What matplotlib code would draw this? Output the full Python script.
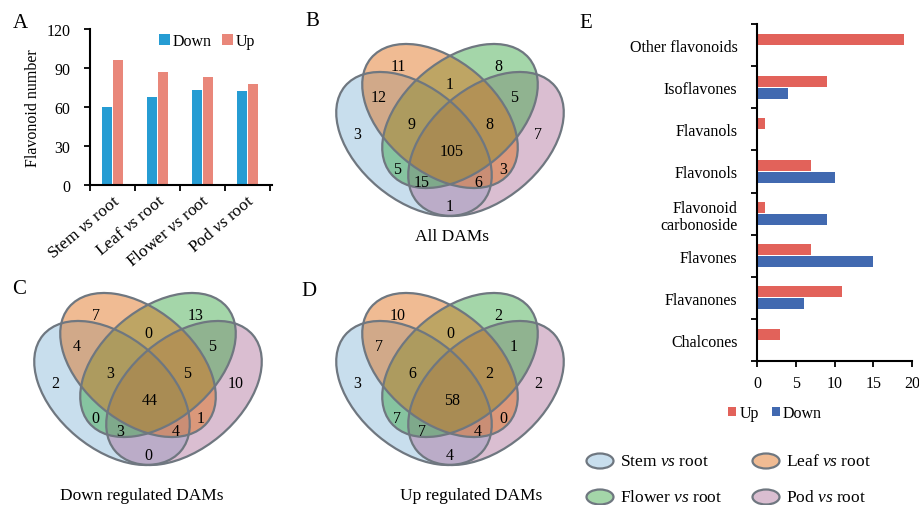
import matplotlib
matplotlib.use('Agg')
import matplotlib.pyplot as plt
from matplotlib.patches import Ellipse
import matplotlib.transforms as mtransforms
import numpy as np

plt.rcParams['font.family'] = ['Liberation Serif', 'DejaVu Serif']
plt.rcParams['mathtext.fontset'] = 'custom'
plt.rcParams['mathtext.rm'] = 'Liberation Serif'
plt.rcParams['mathtext.it'] = 'Liberation Serif:italic'

# ---------------- data ----------------
comparisons = ['Stem', 'Leaf', 'Flower', 'Pod']
a_down = [60, 68, 73, 72]
a_up = [96, 87, 83, 78]
a_yticks = [0, 30, 60, 90, 120]

e_classes = ['Chalcones', 'Flavanones', 'Flavones', 'Flavonoid\ncarbonoside',
             'Flavonols', 'Flavanols', 'Isoflavones', 'Other flavonoids']
e_up = [3, 11, 7, 1, 7, 1, 9, 19]
e_down = [0, 6, 15, 9, 10, 0, 4, 0]
e_xticks = [0, 5, 10, 15, 20]

region_keys = ['S', 'L', 'F', 'P', 'SL', 'SF', 'SP', 'LF', 'LP', 'FP',
               'SLF', 'SLP', 'SFP', 'LFP', 'SLFP']
venn_all = [3, 11, 8, 7, 12, 5, 1, 1, 3, 5, 9, 6, 15, 8, 105]
venn_down = [2, 7, 13, 10, 4, 0, 0, 0, 1, 5, 3, 4, 3, 5, 44]
venn_up = [3, 10, 2, 2, 7, 7, 4, 0, 0, 1, 6, 4, 7, 2, 58]
venn_titles = ['All DAMs', 'Down regulated DAMs', 'Up regulated DAMs']

# ---------------- layout ----------------
W, H = 919, 506
fig = plt.figure(figsize=(W / 100, H / 100), dpi=100)

c_down_a = '#269CD3'
c_up_a = '#E9877A'
c_up_e = '#E2625A'
c_down_e = '#4169B0'

set_colors = {'S': '#85B6D9', 'L': '#DE6A11', 'F': '#37A642', 'P': '#AD6F9B'}
set_alpha = 0.45
set_names = {'S': 'Stem', 'L': 'Leaf', 'F': 'Flower', 'P': 'Pod'}
edge_col = '#6F7780'

# ---------- Panel A ----------
axA = fig.add_axes([90 / W, 1 - 186 / H, 182 / W, 156 / H])
x = np.arange(len(comparisons))
axA.bar(x - 0.125, a_down, 0.23, color=c_down_a, label='Down')
axA.bar(x + 0.125, a_up, 0.23, color=c_up_a, label='Up')
axA.set_xlim(-0.5, 3.54)
axA.set_ylim(0, 120)
axA.set_yticks(a_yticks)
axA.set_xticks(x)
axA.set_xticklabels([c + r' $\mathit{vs}$ root' for c in comparisons],
                    rotation=40, ha='right', va='top', rotation_mode='anchor', fontsize=12.5)
off = mtransforms.ScaledTranslation(4 / 100, 5 / 100, fig.dpi_scale_trans)
for lab in axA.get_xticklabels():
    lab.set_transform(lab.get_transform() + off)
axA.set_xticks(np.arange(-0.5, 4, 1), minor=True)
axA.tick_params(axis='x', which='major', length=0, pad=5)
axA.tick_params(axis='x', which='minor', length=4, width=1.3, direction='out')
axA.tick_params(axis='y', length=4, width=1.3, direction='out', labelsize=11.5, pad=10)
for s in ['top', 'right']:
    axA.spines[s].set_visible(False)
for s in ['left', 'bottom']:
    axA.spines[s].set_linewidth(1.5)
axA.set_ylabel('Flavonoid number', fontsize=11.5, labelpad=4)
axA.legend(loc='center', bbox_to_anchor=(207 / W, 1 - 42 / H), bbox_transform=fig.transFigure,
           ncol=2, frameon=False, handlelength=0.7, handleheight=0.7, handletextpad=0.2,
           columnspacing=0.6, fontsize=11.5, borderpad=0, borderaxespad=0)

# ---------- Panel E ----------
axE = fig.add_axes([757 / W, 1 - 362 / H, 155 / W, 337 / H])
y = np.arange(len(e_classes))
axE.barh(y + 0.14, e_up, 0.26, color=c_up_e, label='Up')
axE.barh(y - 0.14, e_down, 0.26, color=c_down_e, label='Down')
axE.set_ylim(-0.5, 7.5)
axE.set_xlim(0, 20)
axE.set_xticks(e_xticks)
axE.set_yticks(y)
axE.set_yticklabels(e_classes, fontsize=11.5, linespacing=1.1)
axE.set_yticks(np.arange(-0.5, 8, 1), minor=True)
axE.tick_params(axis='y', which='major', length=0, pad=14)
axE.tick_params(axis='y', which='minor', length=4, width=1.3, direction='out')
axE.tick_params(axis='x', length=4, width=1.3, direction='out', labelsize=11.5, pad=6)
for s in ['top', 'right']:
    axE.spines[s].set_visible(False)
for s in ['left', 'bottom']:
    axE.spines[s].set_linewidth(1.5)
axE.legend(loc='center', bbox_to_anchor=(775 / W, 1 - 414 / H), bbox_transform=fig.transFigure,
           ncol=2, frameon=False, handlelength=0.5, handleheight=0.5, handletextpad=0.2,
           columnspacing=0.8, fontsize=11.5, borderpad=0, borderaxespad=0)

# ---------- Venn panels (overlay in pixel coordinates) ----------
ov = fig.add_axes([0, 0, 1, 1])
ov.set_xlim(0, W)
ov.set_ylim(H, 0)
ov.set_axis_off()

# ellipse geometry relative to (symmetry axis x, top reference y)
ell_geom = {'S': (-36, 145, 40), 'L': (-10, 117, 40), 'F': (10, 117, -40), 'P': (36, 145, -40)}
ell_a, ell_b = 90, 56
label_pos = {'S': (-93, 135), 'L': (-52, 67), 'F': (48, 67), 'P': (88, 135),
             'SL': (-71, 98), 'SF': (-53, 170), 'SP': (0, 207), 'LF': (0, 85),
             'LP': (53, 170), 'FP': (64, 98), 'SLF': (-38, 125), 'SLP': (28, 183),
             'SFP': (-28, 183), 'LFP': (39, 125), 'SLFP': (2, 152)}


def draw_venn(ox, oy, counts, title, tpos):
    for k in ['S', 'P', 'F', 'L']:
        dx, cy, ang = ell_geom[k]
        ov.add_patch(Ellipse((ox + dx, oy + cy), 2 * ell_a, 2 * ell_b, angle=ang,
                             facecolor=set_colors[k], alpha=set_alpha, edgecolor='none'))
    for k in ['S', 'L', 'F', 'P']:
        dx, cy, ang = ell_geom[k]
        ov.add_patch(Ellipse((ox + dx, oy + cy), 2 * ell_a, 2 * ell_b, angle=ang,
                             facecolor='none', edgecolor=edge_col, lw=1.6))
    for key, val in zip(region_keys, counts):
        lx, ly = label_pos[key]
        ov.text(ox + lx, oy + ly, str(val), ha='center', va='center', fontsize=11.5)
    ov.text(tpos[0], tpos[1], title, ha='center', va='center', fontsize=12.5)


draw_venn(450, 0, venn_all, venn_titles[0], (452, 237))
draw_venn(148, 249, venn_down, venn_titles[1], (142, 496))
draw_venn(450, 249, venn_up, venn_titles[2], (471, 496))

# venn legend
leg_items = [('S', 600, 462), ('L', 766, 462), ('F', 600, 498), ('P', 766, 498)]
for k, lx, ly in leg_items:
    ov.add_patch(Ellipse((lx, ly), 27, 15, facecolor=set_colors[k], alpha=set_alpha, edgecolor='none'))
    ov.add_patch(Ellipse((lx, ly), 27, 15, facecolor='none', edgecolor=edge_col, lw=1.6))
    ov.text(lx + 20, ly, set_names[k] + r' $\mathit{vs}$ root', ha='left', va='center', fontsize=12.5)

# panel letters
for letter, px, py in [('A', 20, 23), ('B', 312, 22), ('C', 19, 290), ('D', 309, 291), ('E', 586, 24)]:
    fig.text(px / W, 1 - py / H, letter, ha='center', va='center', fontsize=15)

fig.savefig('out.png', dpi=100)
